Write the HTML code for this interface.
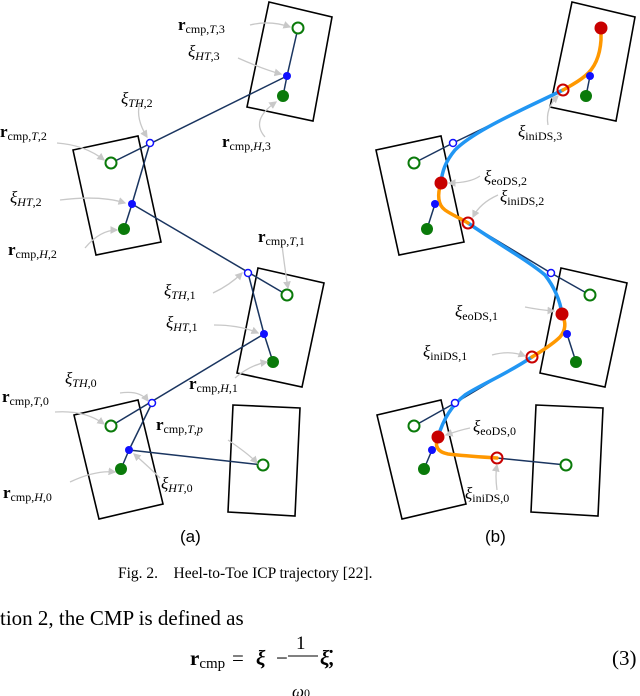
<!DOCTYPE html>
<html><head><meta charset="utf-8"><style>
html,body{margin:0;padding:0;background:#fff;}
svg{display:block;font-family:"Liberation Serif",serif;}
</style></head><body>
<svg width="640" height="696" viewBox="0 0 640 696" xmlns="http://www.w3.org/2000/svg">
<defs>
<marker id="ar" markerWidth="6" markerHeight="6" refX="5" refY="3" orient="auto"><path d="M0,0 L6,3 L0,6 z" fill="#c8c8c8"/></marker>
<g id="boxes" fill="none" stroke="#000" stroke-width="1.6">
<polygon points="269,2 332,17 313,121 247,107"/>
<polygon points="73,150 138,136 161,242 96,255"/>
<polygon points="258,268 324,283 302,387 237,373"/>
<polygon points="74,415 138,400 163,504 99,519"/>
<polygon points="233,405 300,408 295,516 228,512"/>
</g>
</defs>
<!-- Panel A -->
<use href="#boxes"/>
<g stroke="#1a3560" stroke-width="1.5" fill="none">
<line x1="298" y1="28" x2="287" y2="76"/><line x1="287" y1="76" x2="283" y2="96"/>
<line x1="111" y1="163" x2="287" y2="76"/>
<line x1="150" y1="143" x2="132" y2="204"/><line x1="132" y1="204" x2="124" y2="229"/>
<line x1="132" y1="204" x2="287" y2="295"/>
<line x1="248" y1="273" x2="264" y2="334"/><line x1="264" y1="334" x2="273" y2="362"/>
<line x1="111" y1="426" x2="264" y2="334"/>
<line x1="152" y1="403" x2="129" y2="450"/><line x1="129" y1="450" x2="121" y2="469"/>
<line x1="129" y1="450" x2="263" y2="465"/>
</g>
<g fill="#fff" stroke="#0a7a0a" stroke-width="2">
<circle cx="298" cy="28" r="5.5"/><circle cx="111" cy="163" r="5.5"/><circle cx="287" cy="295" r="5.5"/><circle cx="111" cy="426" r="5.5"/><circle cx="263" cy="465" r="5.5"/>
</g>
<g fill="#0a7a0a"><circle cx="283" cy="96" r="6"/><circle cx="124" cy="229" r="6"/><circle cx="273" cy="362" r="6"/><circle cx="121" cy="469" r="6"/></g>
<g fill="#1010ff"><circle cx="287" cy="76" r="4"/><circle cx="132" cy="204" r="4"/><circle cx="264" cy="334" r="4"/><circle cx="129" cy="450" r="4"/></g>
<g fill="#fff" stroke="#1010ff" stroke-width="1.5"><circle cx="150" cy="143" r="3.5"/><circle cx="248" cy="273" r="3.5"/><circle cx="152" cy="403" r="3.5"/></g>
<g stroke="#c8c8c8" stroke-width="1.3" fill="none" marker-end="url(#ar)">
<path d="M250,25 Q270,20 290,27"/><path d="M238,58 Q265,70 281,74"/><path d="M265,137 Q250,120 276,102"/>
<path d="M140,102 Q135,118 147,137"/><path d="M57,143 Q85,145 104,160"/><path d="M60,200 Q100,195 125,203"/>
<path d="M85,248 Q100,230 117,230"/><path d="M282,245 Q285,270 288,288"/><path d="M213,293 Q230,285 242,273"/>
<path d="M214,325 Q240,325 258,333"/><path d="M235,378 Q250,365 267,362"/><path d="M120,393 Q140,390 148,401"/>
<path d="M55,412 Q85,410 104,424"/><path d="M228,440 Q250,455 257,463"/><path d="M160,478 Q150,468 134,454"/><path d="M70,482 Q95,470 115,472"/>
</g>
<!-- Panel B -->
<use href="#boxes" transform="translate(303,0)"/>
<g stroke="#1a3560" stroke-width="1.5" fill="none">
<line x1="590" y1="76" x2="586" y2="96"/>
<line x1="414" y1="163" x2="453" y2="143"/><line x1="453" y1="143" x2="563" y2="90"/>
<line x1="435" y1="204" x2="427" y2="229"/>
<line x1="468" y1="223" x2="551" y2="273"/><line x1="551" y1="273" x2="590" y2="295"/>
<line x1="567" y1="334" x2="576" y2="362"/>
<line x1="414" y1="426" x2="455" y2="403"/><line x1="455" y1="403" x2="532" y2="357"/>
<line x1="432" y1="450" x2="424" y2="469"/>
<line x1="497" y1="458" x2="566" y2="465"/>
</g>
<g fill="none" stroke-linecap="round" stroke-width="3.5">
<path d="M563,90 L540,101 C500,120 470,135 455,150 C445,162 442,172 441,183" stroke="#2196f3"/>
<path d="M468,223 C500,245 530,262 545,275 C555,288 560,300 562,314" stroke="#2196f3"/>
<path d="M532,357 C505,375 480,385 465,395 C452,405 443,420 438,437" stroke="#2196f3"/>
<path d="M601,28 L601,40 C600,55 595,68 585,76 C578,82 570,86 563,90" stroke="#ff9800"/>
<path d="M441,183 C437,195 438,205 445,210 C452,215 460,218 468,223" stroke="#ff9800"/>
<path d="M562,314 C566,322 566,330 560,337 C552,345 540,352 532,357" stroke="#ff9800"/>
<path d="M438,437 C434,447 438,452 448,454 C465,456 482,457 497,458" stroke="#ff9800"/>
</g>
<g fill="#fff" stroke="#0a7a0a" stroke-width="2">
<circle cx="414" cy="163" r="5.5"/><circle cx="590" cy="295" r="5.5"/><circle cx="414" cy="426" r="5.5"/><circle cx="566" cy="465" r="5.5"/>
</g>
<g fill="#0a7a0a"><circle cx="586" cy="96" r="6"/><circle cx="427" cy="229" r="6"/><circle cx="576" cy="362" r="6"/><circle cx="424" cy="469" r="6"/></g>
<g fill="#1010ff"><circle cx="590" cy="76" r="4"/><circle cx="435" cy="204" r="4"/><circle cx="567" cy="334" r="4"/><circle cx="432" cy="450" r="4"/></g>
<g fill="#fff" stroke="#1010ff" stroke-width="1.5"><circle cx="453" cy="143" r="3.5"/><circle cx="551" cy="273" r="3.5"/><circle cx="455" cy="403" r="3.5"/></g>
<g fill="#c80000"><circle cx="601" cy="28" r="6.5"/><circle cx="441" cy="183" r="6.5"/><circle cx="562" cy="314" r="6.5"/><circle cx="438" cy="437" r="6.5"/></g>
<g fill="none" stroke="#c80000" stroke-width="2"><circle cx="563" cy="90" r="5.5"/><circle cx="468" cy="223" r="5.5"/><circle cx="532" cy="357" r="5.5"/><circle cx="497" cy="458" r="5.5"/></g>
<g stroke="#c8c8c8" stroke-width="1.3" fill="none" marker-end="url(#ar)">
<path d="M548,125 Q545,108 558,96"/><path d="M480,176 Q470,183 449,183"/><path d="M498,195 Q480,203 473,217"/>
<path d="M525,307 Q540,310 554,311"/><path d="M492,355 Q510,350 525,356"/><path d="M470,428 Q460,430 446,435"/><path d="M497,490 Q495,475 497,465"/>
</g>
<!-- Labels -->
<g font-size="17" fill="#000">
<text x="178" y="30"><tspan font-weight="bold">r</tspan><tspan font-size="12" dy="3">cmp,<tspan font-style="italic">T</tspan>,3</tspan></text>
<text x="188" y="57" font-style="italic">ξ<tspan font-size="12" dy="3">HT<tspan font-style="normal">,3</tspan></tspan></text>
<text x="121" y="104" font-style="italic">ξ<tspan font-size="12" dy="3">TH<tspan font-style="normal">,2</tspan></tspan></text>
<text x="0" y="137"><tspan font-weight="bold">r</tspan><tspan font-size="12" dy="3">cmp,<tspan font-style="italic">T</tspan>,2</tspan></text>
<text x="10" y="203" font-style="italic">ξ<tspan font-size="12" dy="3">HT<tspan font-style="normal">,2</tspan></tspan></text>
<text x="8" y="255"><tspan font-weight="bold">r</tspan><tspan font-size="12" dy="3">cmp,<tspan font-style="italic">H</tspan>,2</tspan></text>
<text x="222" y="147"><tspan font-weight="bold">r</tspan><tspan font-size="12" dy="3">cmp,<tspan font-style="italic">H</tspan>,3</tspan></text>
<text x="258" y="242"><tspan font-weight="bold">r</tspan><tspan font-size="12" dy="3">cmp,<tspan font-style="italic">T</tspan>,1</tspan></text>
<text x="164" y="296" font-style="italic">ξ<tspan font-size="12" dy="3">TH<tspan font-style="normal">,1</tspan></tspan></text>
<text x="166" y="328" font-style="italic">ξ<tspan font-size="12" dy="3">HT<tspan font-style="normal">,1</tspan></tspan></text>
<text x="189" y="389"><tspan font-weight="bold">r</tspan><tspan font-size="12" dy="3">cmp,<tspan font-style="italic">H</tspan>,1</tspan></text>
<text x="65" y="384" font-style="italic">ξ<tspan font-size="12" dy="3">TH<tspan font-style="normal">,0</tspan></tspan></text>
<text x="2" y="402"><tspan font-weight="bold">r</tspan><tspan font-size="12" dy="3">cmp,<tspan font-style="italic">T</tspan>,0</tspan></text>
<text x="156" y="430"><tspan font-weight="bold">r</tspan><tspan font-size="12" dy="3">cmp,<tspan font-style="italic">T</tspan>,<tspan font-style="italic">p</tspan></tspan></text>
<text x="161" y="489" font-style="italic">ξ<tspan font-size="12" dy="3">HT<tspan font-style="normal">,0</tspan></tspan></text>
<text x="3" y="498"><tspan font-weight="bold">r</tspan><tspan font-size="12" dy="3">cmp,<tspan font-style="italic">H</tspan>,0</tspan></text>
<text x="518" y="137" font-style="italic">ξ<tspan font-size="12" dy="3" font-style="normal">iniDS,3</tspan></text>
<text x="484" y="182" font-style="italic">ξ<tspan font-size="12" dy="3" font-style="normal">eoDS,2</tspan></text>
<text x="500" y="202" font-style="italic">ξ<tspan font-size="12" dy="3" font-style="normal">iniDS,2</tspan></text>
<text x="455" y="317" font-style="italic">ξ<tspan font-size="12" dy="3" font-style="normal">eoDS,1</tspan></text>
<text x="423" y="357" font-style="italic">ξ<tspan font-size="12" dy="3" font-style="normal">iniDS,1</tspan></text>
<text x="473" y="432" font-style="italic">ξ<tspan font-size="12" dy="3" font-style="normal">eoDS,0</tspan></text>
<text x="465" y="499" font-style="italic">ξ<tspan font-size="12" dy="3" font-style="normal">iniDS,0</tspan></text>
</g>
<g font-family="Liberation Sans, sans-serif" font-size="17">
<text x="180" y="542">(a)</text><text x="485" y="542">(b)</text>
</g>
<text x="118" y="578" font-size="15.5">Fig. 2.&#160;&#160;&#160;&#160;Heel-to-Toe ICP trajectory [22].</text>
<text x="0" y="625" font-size="21">tion 2, the CMP is defined as</text>
<g font-size="21">
<text x="190" y="665"><tspan font-weight="bold">r</tspan><tspan font-size="15" dy="3">cmp</tspan></text>
<text x="232" y="665">=</text>
<text x="256" y="665" font-weight="bold" font-style="italic">ξ</text>
<text x="276" y="665">−</text>
<text x="296" y="649" font-size="19">1</text>
<line x1="288" y1="656" x2="318" y2="656" stroke="#000" stroke-width="1"/>
<text x="292" y="697" font-size="17" font-style="italic">ω<tspan font-size="12" font-style="normal">0</tspan></text>
<text x="320" y="665" font-weight="bold" font-style="italic">ξ̇,</text>
<text x="612" y="665">(3)</text>
</g>
</svg>
</body></html>
